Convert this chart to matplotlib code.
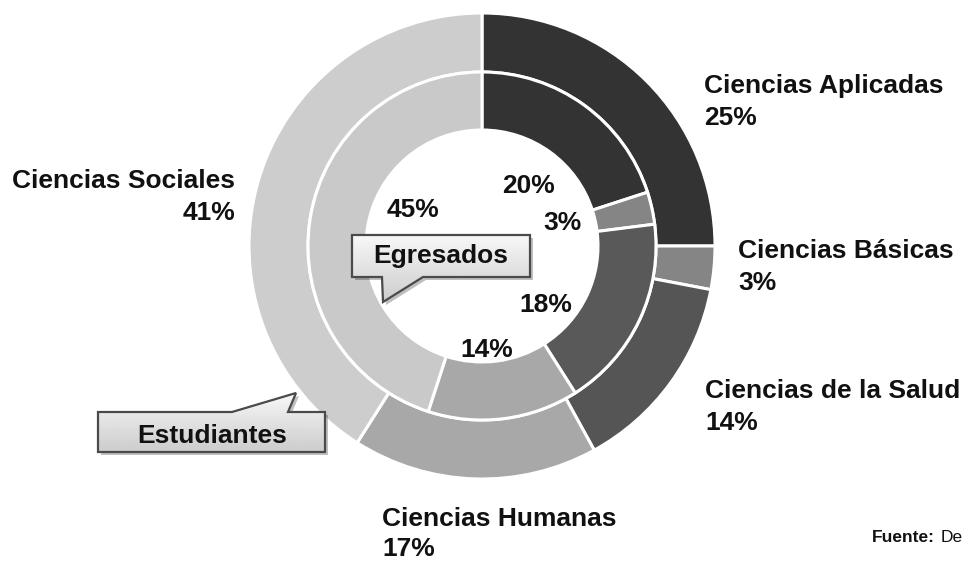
import numpy as np
import matplotlib.pyplot as plt
from matplotlib.patches import Polygon

# Datos -----------------------------------------------------------------------
areas = ["Ciencias Aplicadas", "Ciencias Básicas", "Ciencias de la Salud",
         "Ciencias Humanas", "Ciencias Sociales"]
estudiantes = [25, 3, 14, 17, 41]   # anillo exterior
egresados = [20, 3, 18, 14, 45]     # anillo interior
grises_ext = ["#333333", "#858585", "#555555", "#a8a8a8", "#cdcdcd"]
grises_int = ["#333333", "#858585", "#595959", "#a8a8a8", "#c9c9c9"]

W, H = 969, 561
FONT = "Liberation Sans"
FS = 19


def fy(y):
    # coordenadas de pixel (origen arriba) -> datos (origen abajo)
    return H - y


fig = plt.figure(figsize=(W / 100, H / 100), dpi=100)
ax = fig.add_axes([0, 0, 1, 1])

centro = (482, fy(246))
wp = dict(edgecolor="white", linewidth=2.2)
ax.pie(estudiantes, radius=233, center=centro, colors=grises_ext,
       startangle=90, counterclock=False, wedgeprops=dict(width=59, **wp))
ax.pie(egresados, radius=174, center=centro, colors=grises_int,
       startangle=90, counterclock=False, wedgeprops=dict(width=58, **wp))

ax.set_xlim(0, W)
ax.set_ylim(0, H)
ax.set_aspect("equal")
ax.axis("off")

txt = dict(fontfamily=FONT, fontweight="bold", fontsize=FS, color="#111111")

# etiquetas externas (estudiantes): (x, baseline nombre, baseline %, alineacion)
pos_ext = [(704, 93, 125, "left"), (738, 258, 290, "left"),
           (705, 398, 430, "left"), (382, 526, 556, "left"),
           (235, 188, 220, "right")]
for nombre, v, (x, y1, y2, ha) in zip(areas, estudiantes, pos_ext):
    ax.text(x, fy(y1), nombre, ha=ha, va="baseline", **txt)
    ax.text(x, fy(y2), f"{v}%", ha=ha, va="baseline", **txt)

# porcentajes internos (egresados): (centro x, baseline)
pos_int = [(529, 193), (562, 230), (546, 312), (487, 357), (413, 217)]
for v, (x, y) in zip(egresados, pos_int):
    ax.text(x, fy(y), f"{v}%", ha="center", va="baseline", **txt)


def globo(puntos, texto, tx, ty):
    pts = np.array([(x, fy(y)) for x, y in puntos])
    sombra = Polygon(pts + np.array([3, -3]), closed=True, facecolor="#000000",
                     alpha=0.25, edgecolor="none", zorder=4)
    ax.add_patch(sombra)
    fondo = Polygon(pts, closed=True, facecolor="none", edgecolor="none",
                    zorder=5)
    ax.add_patch(fondo)
    x0, x1 = pts[:, 0].min(), pts[:, 0].max()
    y0, y1 = pts[:, 1].min(), pts[:, 1].max()
    grad = np.linspace(0.97, 0.80, 64).reshape(-1, 1)
    im = ax.imshow(grad, cmap="gray", vmin=0, vmax=1, aspect="auto",
                   extent=(x0, x1, y0, y1), origin="upper", zorder=5)
    im.set_clip_path(fondo)
    borde = Polygon(pts, closed=True, facecolor="none", edgecolor="#4a4a4a",
                    linewidth=1.6, zorder=6)
    ax.add_patch(borde)
    ax.text(tx, fy(ty), texto, ha="center", va="baseline", zorder=7, **txt)


globo([(352, 235), (530, 235), (530, 277), (423, 277), (383, 302),
       (382, 277), (352, 277)], "Egresados", 441, 263)
globo([(98, 412), (232, 412), (296, 393), (288, 412), (325, 412),
       (325, 452), (98, 452)], "Estudiantes", 212, 443)

ax.text(872, fy(542), "Fuente:", fontfamily=FONT, fontweight="bold",
        fontsize=12.5, color="#111111", va="baseline", ha="left")
ax.text(941, fy(542), "De", fontfamily=FONT, fontsize=12.5,
        color="#111111", va="baseline", ha="left")

fig.savefig("out.png", dpi=100)
